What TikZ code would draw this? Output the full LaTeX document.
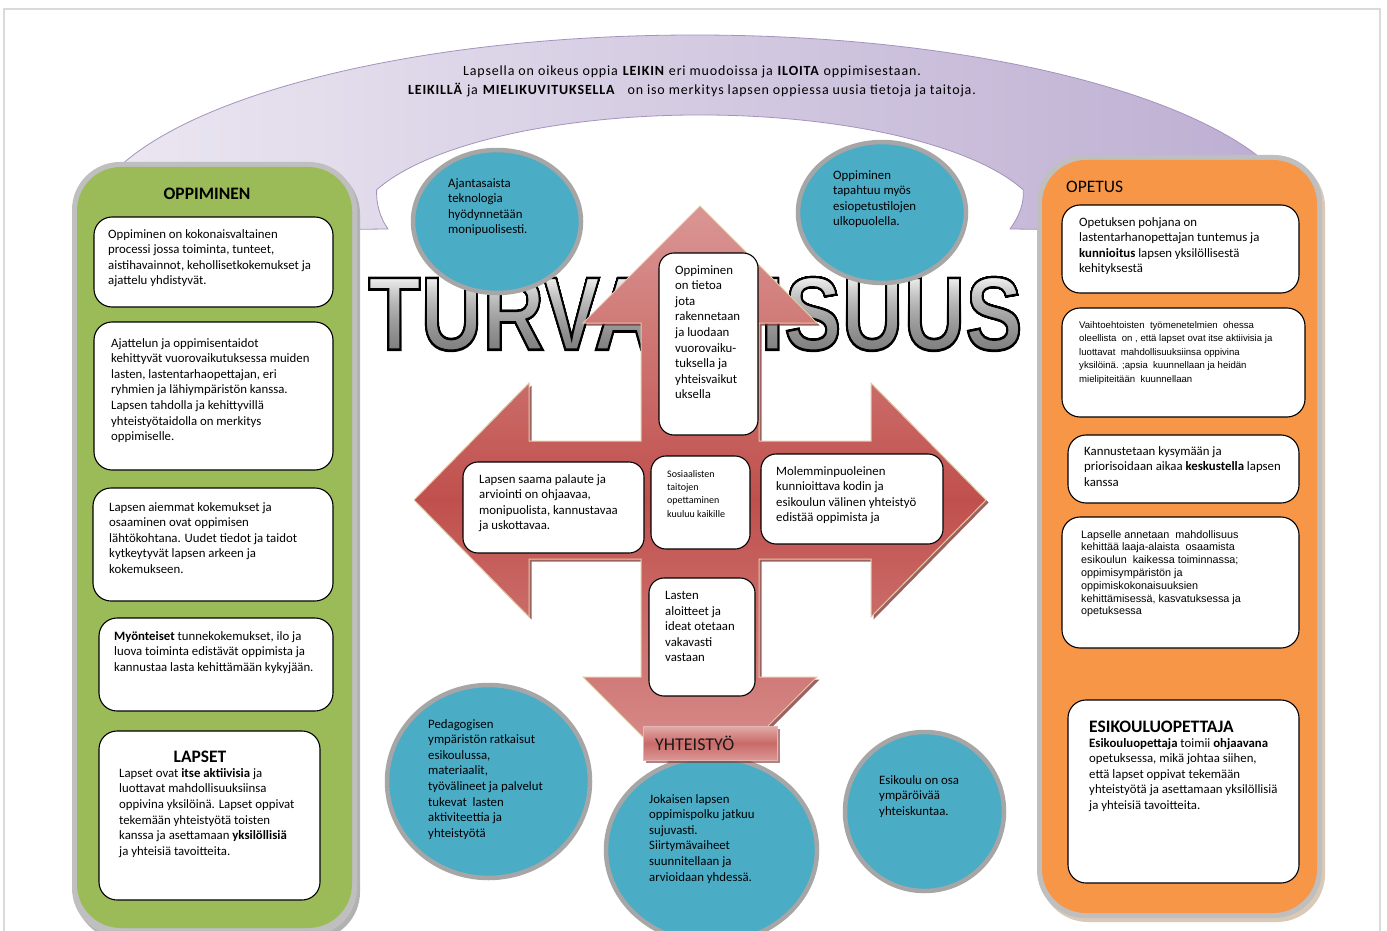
\documentclass[tikz,border=0pt]{standalone}
\usepackage{fontspec}
\setmainfont{Carlito}
\newfontfamily\arialf{Liberation Sans}
\usetikzlibrary{shapes.geometric}
\definecolor{pgreen}{HTML}{9BBB59}
\definecolor{porange}{HTML}{F79646}
\definecolor{pteal}{HTML}{4BACC6}
\definecolor{pgray}{HTML}{A6A6A6}
\definecolor{colgray}{HTML}{BFBFBF}
\definecolor{pred}{HTML}{C0504D}
\definecolor{ppink}{HTML}{DA9694}
\definecolor{pdark}{HTML}{7A2E2C}
\definecolor{plav1}{HTML}{ECE8F2}
\definecolor{plav2}{HTML}{BCADD1}
\definecolor{plavedge}{HTML}{A493BE}
\definecolor{pageline}{HTML}{DADADA}
\definecolor{arrowedge}{HTML}{E4CBA8}
\definecolor{turvgray}{HTML}{7C7C7C}
\newcommand{\turvword}{\resizebox{654pt}{73pt}{\special{pdf:literal direct 2 Tr 0.26 w 0 G}\arialf\bfseries TURVALLISUUS\special{pdf:literal direct 0 Tr}}}
\begin{document}
\begin{tikzpicture}[x=1pt,y=1pt,
  wbox/.style={draw=black, line width=1.1pt, fill=white, rounded corners=18pt},
  cbox/.style={draw=black, line width=1.1pt, fill=white, rounded corners=15pt},
  txt/.style={anchor=north west, inner sep=0pt, align=left, font=\fontsize{12.8}{15.6}\selectfont},
  smalltxt/.style={anchor=north west, inner sep=0pt, align=left, font=\fontsize{10}{13.3}\selectfont},
  arialtxt/.style={anchor=north west, inner sep=0pt, align=left, font=\arialf\fontsize{9.6}{13.5}\selectfont},
  arialtxtb/.style={anchor=north west, inner sep=0pt, align=left, font=\arialf\fontsize{10.8}{12.8}\selectfont},
  title/.style={inner sep=0pt, font=\bfseries\fontsize{17.5}{20}\selectfont},
  bubble/.style={ellipse, draw=pgray, line width=4.5pt, fill=pteal, inner sep=0pt},
]
\useasboundingbox (0,0) rectangle (1387,-931);
\fill[white] (0,0) rectangle (1387,-931);
\draw[pageline, line width=2pt] (4,-945) -- (4,-9) -- (1380,-9) -- (1380,-945);

% purple curved band
\shade[left color=plav1, right color=plav2, draw=plavedge, line width=0.8pt]
  (85,-232) arc[start angle=180, end angle=0, x radius=610, y radius=197]
  -- (1010,-229) .. controls (1020,-215) and (1024,-203) .. (1023.3,-189.9)
  arc[start angle=20.4, end angle=159.6, x radius=345, y radius=115]
  .. controls (376,-203) and (380,-218) .. (388,-229) -- cycle;

% left column
\fill[black!30] (75,-166) [rounded corners=48pt] rectangle (360,-940);
\fill[colgray, rounded corners=48pt] (72,-162) rectangle (357,-936);
\fill[pgreen, rounded corners=44pt] (77,-167) rectangle (352,-928);
% right column
\fill[black!20!brown!35] (1040,-159) [rounded corners=48pt] rectangle (1325,-922);
\fill[colgray, rounded corners=48pt] (1037,-155) rectangle (1322,-918);
\fill[porange, rounded corners=44pt] (1042,-160) rectangle (1317,-913);

% top text
\node[anchor=north, inner sep=0pt, align=center, font=\addfontfeature{LetterSpace=6}\fontsize{14}{19}\selectfont] (toptext) at (692,-66)
  {Lapsella on oikeus oppia \textbf{LEIKIN} eri muodoissa ja \textbf{ILOITA} oppimisestaan.\\
   \textbf{LEIKILLÄ} ja \textbf{MIELIKUVITUKSELLA}~~ on iso merkitys lapsen oppiessa uusia tietoja ja taitoja.};

% TURVALLISUUS word: gray fill + black outline, lightened towards the top
\node[inner sep=0pt, anchor=south west, text=turvgray] (turv) at (368,-351) {\turvword};
\shade[top color=black!50, bottom color=black, blend mode=color dodge]
  (364,-275) rectangle (1026,-355);

% big four-way arrow: shadow then shaded body
\fill[pdark, opacity=0.75]
  (702.5,-208.5) -- (819.5,-325.5) -- (761.5,-325.5) -- (761.5,-443.5) -- (873.5,-443.5) -- (873.5,-385.5)
  -- (988.5,-502.5) -- (873.5,-619.5) -- (873.5,-561.5) -- (761.5,-561.5) -- (761.5,-679.5) -- (819.5,-679.5)
  -- (702.5,-796.5) -- (585.5,-679.5) -- (643.5,-679.5) -- (643.5,-561.5) -- (531.5,-561.5) -- (531.5,-619.5)
  -- (416.5,-502.5) -- (531.5,-385.5) -- (531.5,-443.5) -- (643.5,-443.5) -- (643.5,-325.5) -- (585.5,-325.5) -- cycle;
\shade[top color=ppink, bottom color=ppink, middle color=pred, draw=arrowedge, line width=1pt]
  (700,-206) -- (817,-323) -- (759,-323) -- (759,-441) -- (871,-441) -- (871,-383)
  -- (986,-500) -- (871,-617) -- (871,-559) -- (759,-559) -- (759,-677) -- (817,-677)
  -- (700,-794) -- (583,-677) -- (641,-677) -- (641,-559) -- (529,-559) -- (529,-617)
  -- (414,-500) -- (529,-383) -- (529,-441) -- (641,-441) -- (641,-323) -- (583,-323) -- cycle;

% bubbles
\node[bubble, minimum width=168pt, minimum height=143pt] (c1) at (497,-221.5) {};
\node[bubble, minimum width=168pt, minimum height=141pt] (c2) at (882,-212.5) {};
\node[bubble, minimum width=203pt, minimum height=193pt] (c3) at (488.5,-781.5) {};
\node[bubble, minimum width=211pt, minimum height=186pt] (c4) at (711.5,-850) {};
\node[bubble, minimum width=159pt, minimum height=159pt] (c5) at (924.5,-811.5) {};

\node[txt] (c1t) at (448,-178) {Ajantasaista\\teknologia\\hyödynnetään\\monipuolisesti.};
\node[txt] (c2t) at (833,-170) {Oppiminen\\tapahtuu myös\\esiopetustilojen\\ulkopuolella.};
\node[txt] (c3t) at (428,-719) {Pedagogisen\\ympäristön ratkaisut\\esikoulussa,\\materiaalit,\\työvälineet ja palvelut\\tukevat~ lasten\\aktiviteettia ja\\yhteistyötä};
\node[txt] (c4t) at (649,-794) {Jokaisen lapsen\\oppimispolku jatkuu\\sujuvasti.\\Siirtymävaiheet\\suunnitellaan ja\\arvioidaan yhdessä.};
\node[txt] (c5t) at (879,-775) {Esikoulu on osa\\ympäröivää\\yhteiskuntaa.};

% center boxes
\draw[cbox] (659,-253) rectangle (758,-435);
\node[txt] (upt) at (675,-265) {Oppiminen\\on tietoa\\jota\\rakennetaan\\ja luodaan\\vuorovaiku-\\tuksella ja\\yhteisvaikut\\uksella};
\draw[cbox] (463,-462) rectangle (644,-553);
\node[txt] (lt) at (479,-474) {Lapsen saama palaute ja\\arviointi on ohjaavaa,\\monipuolista, kannustavaa\\ja uskottavaa.};
\draw[cbox] (651,-456) rectangle (750,-549);
\node[smalltxt] (mt) at (667,-470) {Sosiaalisten\\taitojen\\opettaminen\\kuuluu kaikille};
\draw[cbox] (761,-454) rectangle (943,-544);
\node[txt] (rt) at (776,-466) {Molemminpuoleinen\\kunnioittava kodin ja\\esikoulun välinen yhteistyö\\edistää oppimista ja};
\draw[cbox] (649,-578) rectangle (755,-696);
\node[txt] (dt) at (665,-591) {Lasten\\aloitteet ja\\ideat otetaan\\vakavasti\\vastaan};

% YHTEISTYO label
\fill[pdark, opacity=0.6] (645.5,-728.5) rectangle (780,-763);
\shade[top color=ppink!80!white, bottom color=ppink, middle color=pred!85!white, draw=ppink!70!white, line width=0.8pt]
  (643,-726) rectangle (777,-760);
\node[anchor=base west, inner sep=0pt, font=\fontsize{18}{20}\selectfont, text=black!90] (yht) at (655,-750) {YHTEISTYÖ};

% left column content
\node[title, anchor=base] (oppt) at (207,-200) {OPPIMINEN};
\draw[wbox] (94,-217) rectangle (333,-307);
\node[txt] (b1) at (108,-229) {Oppiminen on kokonaisvaltainen\\processi jossa toiminta, tunteet,\\aistihavainnot, kehollisetkokemukset ja\\ajattelu yhdistyvät.};
\draw[wbox] (94,-322) rectangle (333,-470);
\node[txt] (b2) at (111,-338) {Ajattelun ja oppimisentaidot\\kehittyvät vuorovaikutuksessa muiden\\lasten, lastentarhaopettajan, eri\\ryhmien ja lähiympäristön kanssa.\\Lapsen tahdolla ja kehittyvillä\\yhteistyötaidolla on merkitys\\oppimiselle.};
\draw[wbox] (93,-488) rectangle (333,-601);
\node[txt] (b3) at (109,-502) {Lapsen aiemmat kokemukset ja\\osaaminen ovat oppimisen\\lähtökohtana. Uudet tiedot ja taidot\\kytkeytyvät lapsen arkeen ja\\kokemukseen.};
\draw[wbox] (99,-618) rectangle (333,-711);
\node[txt] (b4) at (114,-631) {\textbf{Myönteiset} tunnekokemukset, ilo ja\\luova toiminta edistävät oppimista ja\\kannustaa lasta kehittämään kykyjään.};
\draw[wbox] (99,-731) rectangle (320,-900);
\node[title, anchor=base] (lapt) at (200,-762) {LAPSET};
\node[txt] (b5) at (119,-768) {Lapset ovat \textbf{itse aktiivisia} ja\\luottavat mahdollisuuksiinsa\\oppivina yksilöinä. Lapset oppivat\\tekemään yhteistyötä toisten\\kanssa ja asettamaan \textbf{yksilöllisiä}\\ja yhteisiä tavoitteita.};

% right column content
\node[anchor=base west, inner sep=0pt, font=\fontsize{17.5}{20}\selectfont] (opet) at (1066,-193) {OPETUS};
\draw[wbox] (1062,-205) rectangle (1299,-293);
\node[txt] (o1) at (1079,-217) {Opetuksen pohjana on\\lastentarhanopettajan tuntemus ja\\\textbf{kunnioitus} lapsen yksilöllisestä\\kehityksestä};
\draw[wbox] (1062,-308) rectangle (1305,-417);
\node[arialtxt] (o2) at (1079,-321) {Vaihtoehtoisten~ työmenetelmien~ ohessa\\oleellista~ on , että lapset ovat itse aktiivisia ja\\luottavat~ mahdollisuuksiinsa oppivina\\yksilöinä. ;apsia~ kuunnellaan ja heidän\\mielipiteitään~ kuunnellaan};
\draw[wbox] (1068,-435) rectangle (1299,-503);
\node[txt] (o3) at (1084,-446) {Kannustetaan kysymään ja\\priorisoidaan aikaa \textbf{keskustella} lapsen\\kanssa};
\draw[wbox] (1062,-517) rectangle (1299,-648);
\node[arialtxtb] (o4) at (1081,-530) {Lapselle annetaan~ mahdollisuus\\kehittää laaja-alaista~ osaamista\\esikoulun~ kaikessa toiminnassa;\\oppimisympäristön ja\\oppimiskokonaisuuksien\\kehittämisessä, kasvatuksessa ja\\opetuksessa};
\draw[wbox] (1068,-700) rectangle (1299,-883);
\node[title, anchor=base west] (esit) at (1089,-732) {ESIKOULUOPETTAJA};
\node[txt] (o5) at (1089,-738) {\textbf{Esikouluopettaja} toimii \textbf{ohjaavana}\\opetuksessa, mikä johtaa siihen,\\että lapset oppivat tekemään\\yhteistyötä ja asettamaan yksilöllisiä\\ja yhteisiä tavoitteita.};
\end{tikzpicture}
\end{document}
